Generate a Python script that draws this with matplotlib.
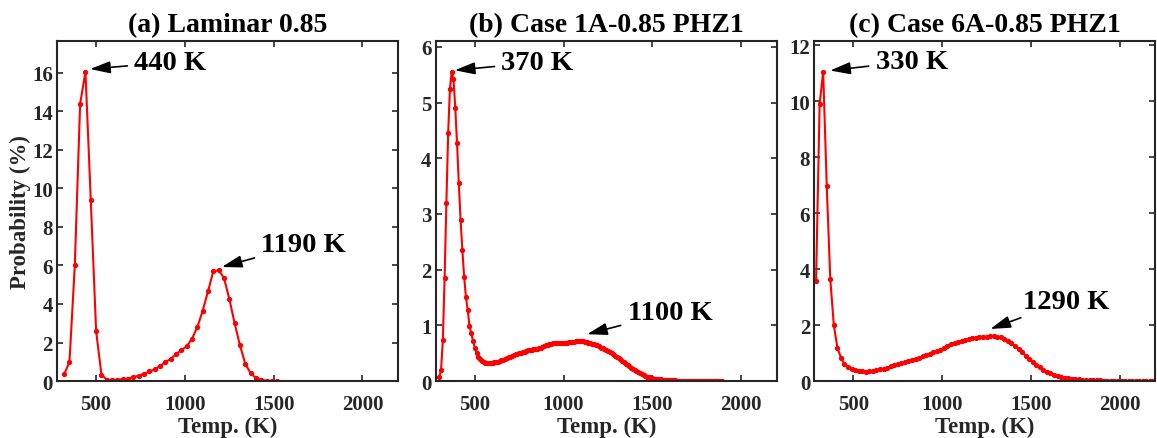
import numpy as np
import matplotlib
matplotlib.use('Agg')
import matplotlib.pyplot as plt

plt.rcParams['font.family'] = ['Liberation Serif', 'DejaVu Serif']
plt.rcParams['font.weight'] = 'bold'

# Temperature PDFs, bin centres (K) and probability (%)
temp_lam = np.arange(320, 1521, 30)
prob_lam = [0.35, 0.99, 6.0, 14.4, 16.05, 9.38, 2.6, 0.33, 0.07, 0.05,
            0.06, 0.10, 0.13, 0.20, 0.28, 0.38, 0.50, 0.60, 0.78, 0.98,
            1.15, 1.40, 1.60, 1.80, 2.20, 2.80, 3.65, 4.65, 5.70, 5.75,
            5.35, 4.27, 3.00, 1.85, 0.90, 0.40, 0.15, 0.05, 0.02, 0.01,
            0.01]

temp_1a = np.arange(300, 1891, 10)
prob_1a = [0.07, 0.20, 0.73, 1.85, 3.20, 4.45, 5.25, 5.55, 5.42, 4.91,
           4.27, 3.55, 2.89, 2.35, 1.87, 1.51, 1.28, 0.99, 0.86, 0.72,
           0.60, 0.50, 0.44, 0.39, 0.36, 0.34, 0.33, 0.32, 0.32, 0.33,
           0.33, 0.34, 0.34, 0.35, 0.36, 0.37, 0.38, 0.40, 0.41, 0.43,
           0.44, 0.45, 0.47, 0.48, 0.49, 0.50, 0.51, 0.52, 0.53, 0.54,
           0.55, 0.55, 0.56, 0.57, 0.57, 0.58, 0.59, 0.60, 0.61, 0.62,
           0.64, 0.65, 0.66, 0.67, 0.68, 0.68, 0.69, 0.68, 0.68, 0.68,
           0.68, 0.69, 0.69, 0.70, 0.70, 0.70, 0.70, 0.71, 0.71, 0.71,
           0.71, 0.71, 0.70, 0.70, 0.69, 0.68, 0.67, 0.66, 0.65, 0.64,
           0.62, 0.60, 0.59, 0.57, 0.55, 0.54, 0.52, 0.50, 0.48, 0.45,
           0.43, 0.41, 0.39, 0.36, 0.34, 0.31, 0.29, 0.27, 0.24, 0.22,
           0.20, 0.18, 0.16, 0.14, 0.12, 0.10, 0.09, 0.08, 0.07, 0.06,
           0.050, 0.045, 0.040, 0.035, 0.030, 0.028, 0.024, 0.020, 0.018, 0.015,
           0.013, 0.012, 0.011, 0.010, 0.009, 0.008, 0.008, 0.007, 0.006, 0.006,
           0.005, 0.005, 0.004, 0.004, 0.004, 0.003, 0.003, 0.003, 0.002, 0.002,
           0.002, 0.002, 0.002, 0.001, 0.001, 0.001, 0.001, 0.001, 0.001, 0.001]

temp_6a = np.arange(290, 2191, 20)
prob_6a = [3.58, 9.92, 11.05, 6.98, 3.64, 2.00, 1.19, 0.84, 0.60, 0.50,
           0.44, 0.39, 0.37, 0.35, 0.34, 0.35, 0.37, 0.39, 0.42, 0.44,
           0.48, 0.52, 0.56, 0.60, 0.64, 0.68, 0.72, 0.75, 0.79, 0.83,
           0.88, 0.93, 0.98, 1.02, 1.06, 1.10, 1.18, 1.26, 1.31, 1.36,
           1.40, 1.44, 1.47, 1.50, 1.53, 1.55, 1.59, 1.58, 1.59, 1.60,
           1.61, 1.59, 1.56, 1.51, 1.44, 1.35, 1.24, 1.14, 1.03, 0.91,
           0.80, 0.69, 0.59, 0.50, 0.41, 0.34, 0.28, 0.22, 0.18, 0.15,
           0.12, 0.10, 0.08, 0.07, 0.06, 0.05, 0.04, 0.035, 0.03, 0.025,
           0.02, 0.018, 0.015, 0.012, 0.01, 0.008, 0.007, 0.006, 0.005, 0.004,
           0.004, 0.003, 0.003, 0.002, 0.002, 0.002]

titles = ['(a) Laminar 0.85', '(b) Case 1A-0.85 PHZ1', '(c) Case 6A-0.85 PHZ1']
yticks = [np.arange(0, 17, 2), np.arange(0, 7, 1), np.arange(0, 13, 2)]

# peak labels: (text, arrow head xy, text xy)
notes = [
    [('440 K', (466, 16.2), (715, 16.55)), ('1190 K', (1208, 5.92), (1430, 7.1))],
    [('370 K', (387, 5.58), (650, 5.72)), ('1100 K', (1132, 0.84), (1360, 1.23))],
    [('330 K', (369, 11.1), (625, 11.43)), ('1290 K', (1271, 1.86), (1455, 2.86))],
]

fig = plt.figure(figsize=(11.57, 4.39), dpi=100)
lefts = [0.0493, 0.3766, 0.7038]
dark = '#262626'

for i, (T, P) in enumerate([(temp_lam, prob_lam), (temp_1a, prob_1a), (temp_6a, prob_6a)]):
    ax = fig.add_axes([lefts[i], 0.1298, 0.2947, 0.7745])
    ax.plot(T, P, color='red', lw=1.5, marker='o', ms=2.8)
    ax.set_xlim(280, 2200)
    ax.set_ylim(0, max(P) * 1.1)
    ax.set_xticks([500, 1000, 1500, 2000])
    ax.set_yticks(yticks[i])
    ax.tick_params(direction='in', top=True, right=True, length=4, width=1.2,
                   labelsize=15, colors=dark)
    ax.tick_params(axis='x', pad=9)
    ax.tick_params(axis='y', pad=3)
    for s in ax.spines.values():
        s.set_linewidth(1.5)
        s.set_color(dark)
    ax.set_title(titles[i], fontsize=20, fontweight='bold', pad=7)
    ax.set_xlabel('Temp. (K)', fontsize=16.5, fontweight='bold', color=dark, labelpad=2)
    if i == 0:
        ax.set_ylabel('Probability (%)', fontsize=16.5, fontweight='bold', color=dark, labelpad=1)
    for txt, xy, xyt in notes[i]:
        ax.annotate(txt, xy=xy, xytext=xyt, fontsize=20.5, fontweight='bold',
                    ha='left', va='center',
                    arrowprops=dict(arrowstyle='-|>,head_length=0.6,head_width=0.18',
                                    color='black', lw=1.2, shrinkA=3, shrinkB=0))

fig.savefig('out.png', dpi=100)
